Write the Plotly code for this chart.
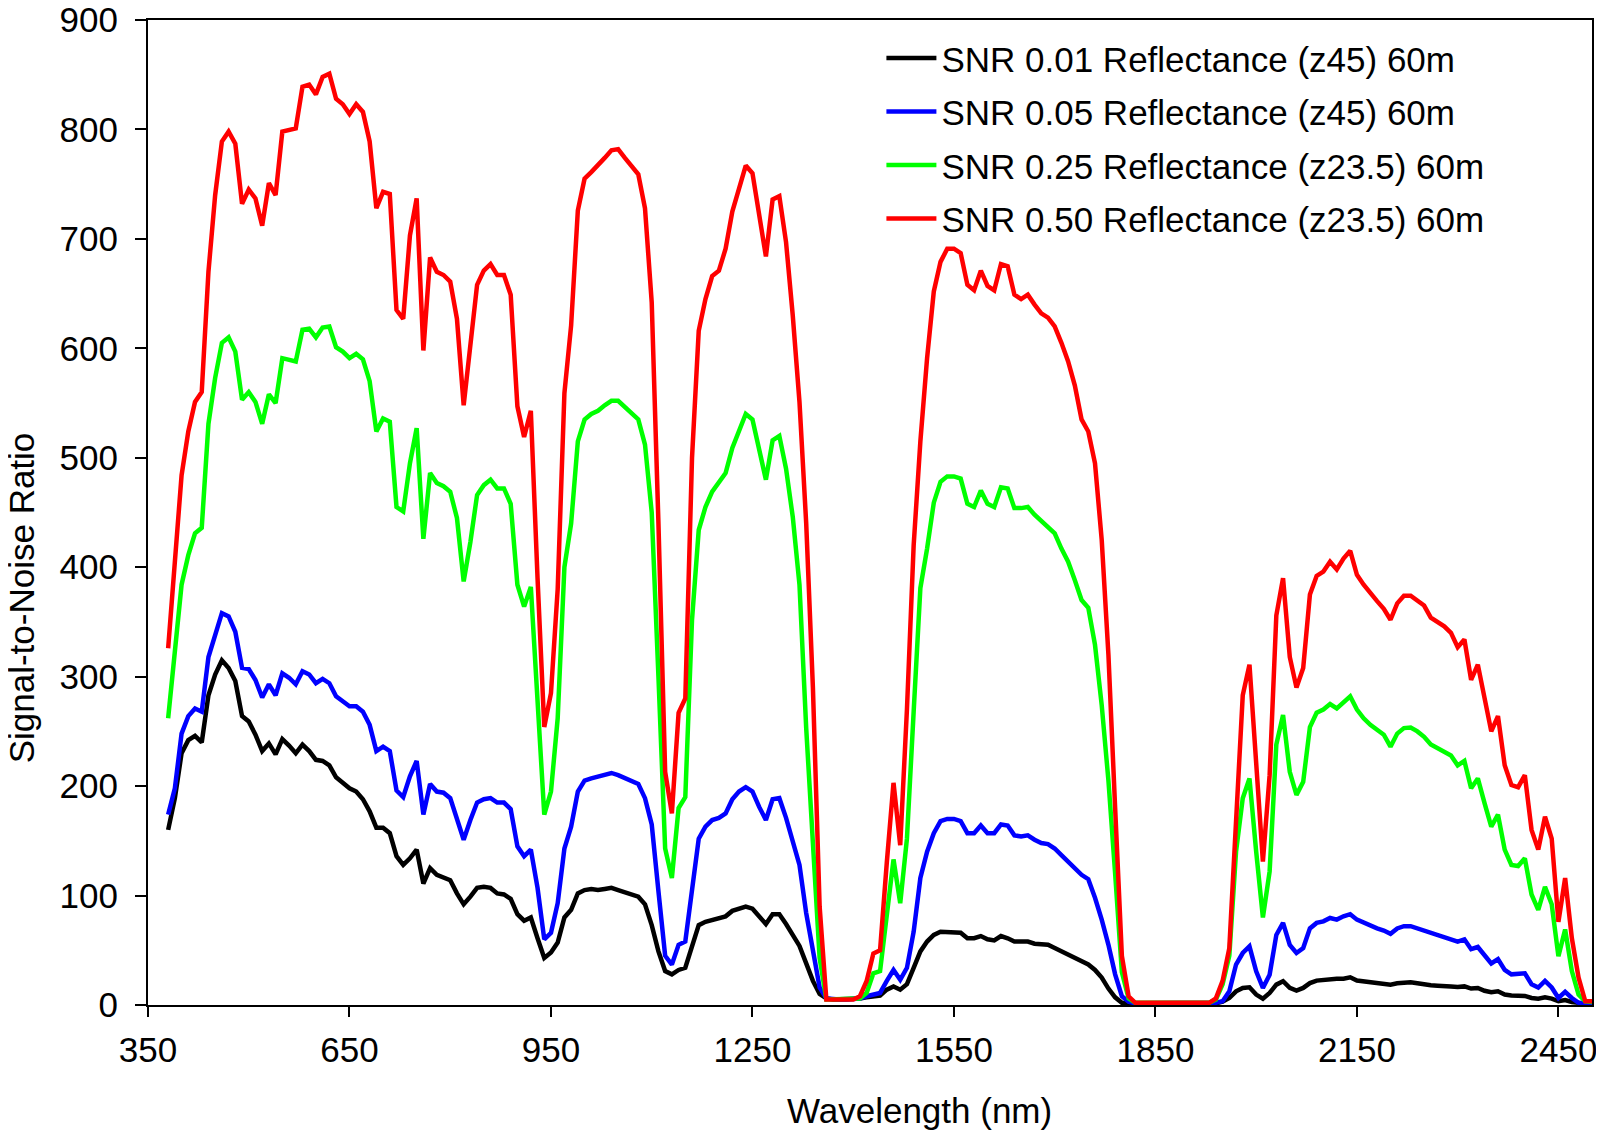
import plotly.graph_objects as go

# Wavelength grid (nm), 10 nm sampling
wavelength = list(range(380, 2510, 10))

# SNR 0.01 Reflectance (z45) 60m
snr_001 = [
    160, 189, 230, 242, 246, 240, 283, 302, 315, 308,   # 380-470
    296, 264, 259, 247, 232, 239, 229, 243, 237, 230,   # 480-570
    238, 232, 224, 223, 219, 208, 203, 198, 195, 188,   # 580-670
    177, 162, 162, 157, 136, 128, 134, 142, 111, 125,   # 680-770
    119, 116, 114, 102, 92, 99, 107, 108, 107, 102,     # 780-870
    101, 97, 83, 77, 80, 61, 43, 48, 57, 80,            # 880-970
    87, 102, 105, 106, 105, 106, 107, 105, 103, 102,    # 980-1070
    99, 92, 73, 49, 31, 28, 32, 34, 55, 73,             # 1080-1170
    76, 78, 79, 81, 86, 88, 90, 88, 81, 74,             # 1180-1270
    83, 83, 74, 64, 54, 38, 22, 10, 6, 5,               # 1280-1370
    5, 5, 5, 6, 7, 8, 8.6, 14, 17, 14,                  # 1380-1470
    19, 34, 49, 58, 64, 67, 67, 67, 66, 61,             # 1480-1570
    61, 63, 60, 59, 63, 61, 58, 58, 58, 56,             # 1580-1670
    55, 55, 52, 49, 46, 42, 40, 37, 32, 25,             # 1680-1770
    15, 7, 2, 1, 1, 1, 1, 1, 1, 1,                      # 1780-1870
    1, 1, 1, 1, 1, 1, 1.5, 3, 6.4, 12.5,                # 1880-1970
    15.6, 16.2, 9.5, 5.8, 11, 18.6, 21.7, 15.6, 13.1, 15.6,  # 1980-2070
    20, 22.3, 23.2, 23.2, 24, 24, 25.3, 22.3, 21.7, 21,      # 2080-2170
    20, 19.5, 18.6, 19.8, 20.7, 20.7, 19.8, 18.6, 18, 17.7,  # 2180-2270
    17.7, 17, 16.5, 17, 15, 15.6, 13, 11.6, 12.5, 9.5,       # 2280-2370
    8.6, 8.6, 8.3, 6.4, 5.8, 7, 5.8, 3.4, 4.6, 2.8,          # 2380-2470
    1.5, 1.2, 1.2,                                           # 2480-2500
]

# SNR 0.05 Reflectance (z45) 60m
snr_005 = [
    174, 198, 248, 264, 271, 268, 318, 338, 358, 355,
    341, 308, 307, 297, 281, 293, 283, 303, 299, 293,
    305, 302, 294, 298, 294, 282, 277, 273, 273, 268,
    256, 232, 236, 232, 196, 190, 209, 223, 174, 202,
    195, 194, 189, 171, 151, 169, 185, 188, 189, 185,
    185, 179, 145, 136, 142, 107, 60, 66, 93, 143,
    163, 195, 205, 207, 209, 211, 212, 210, 207, 205,
    202, 189, 165, 104, 45, 37, 55, 58, 107, 152,
    163, 169, 171, 175, 188, 195, 199, 195, 181, 169,
    188, 189, 171, 151, 128, 84, 49, 16, 6, 5,
    5, 5, 5, 6, 8, 9.5, 11, 22, 32, 23,
    34, 67, 116, 140, 157, 168, 170, 170, 168, 157,
    157, 164, 157, 157, 165, 164, 155, 154, 155, 151,
    148, 147, 143, 137, 131, 125, 119, 115, 98, 78,
    55, 28, 8, 3, 1.5, 1.5, 1.5, 1.5, 1.5, 1.5,
    1.5, 1.5, 1.5, 1.5, 1.5, 1.5, 2, 3.4, 12.5, 37,
    47.5, 53.6, 30.8, 15.6, 27.7, 64, 75, 55, 47.5, 52,
    70, 75, 76.4, 79.5, 78, 81, 83, 78, 75, 73,
    70, 68, 65, 70, 72, 72, 70, 68, 66, 65,
    63, 61, 58, 60, 51, 53, 46, 38, 42, 32,
    28, 28, 29, 19, 16, 22, 16, 6.4, 12, 6.4,
    2, 1.5, 1.5,
]

# SNR 0.25 Reflectance (z23.5) 60m
snr_025 = [
    262, 320, 384, 411, 431, 436, 531, 573, 605, 610,
    597, 553, 560, 551, 531, 558, 550, 591, 590, 588,
    617, 618, 610, 619, 620, 601, 597, 591, 595, 590,
    570, 524, 536, 533, 455, 451, 495, 527, 426, 486,
    477, 474, 469, 445, 387, 423, 466, 475, 480, 472,
    472, 458, 384, 364, 382, 280, 174, 195, 262, 400,
    440, 515, 535, 540, 543, 548, 552, 552, 546, 541,
    535, 512, 450, 300, 143, 116, 180, 190, 352, 434,
    455, 469, 477, 486, 509, 525, 540, 535, 509, 480,
    516, 520, 490, 446, 384, 253, 148, 43, 5, 5,
    5, 5, 5, 6, 11, 29, 31, 83, 133, 93,
    152, 268, 381, 417, 459, 478, 483, 483, 481, 458,
    455, 470, 458, 455, 473, 472, 454, 454, 455, 448,
    442, 437, 431, 417, 405, 388, 370, 363, 329, 274,
    205, 120, 30, 6, 2, 2, 2, 2, 2, 2,
    2, 2, 2, 2, 2, 2, 5, 19, 45, 140,
    189, 207, 140, 80, 122, 238, 265, 213, 192, 204,
    254, 267, 270, 275, 271, 277, 282, 270, 262, 256,
    251, 247, 236, 248, 253, 253.5, 250, 245, 238, 235,
    231, 228, 219, 223, 198, 207, 184.5, 163, 174, 142,
    128, 127, 134, 101, 87, 108, 92, 44.5, 69, 31,
    9.5, 3.4, 2.8,
]

# SNR 0.50 Reflectance (z23.5) 60m
snr_050 = [
    326, 410, 484, 524, 551, 560, 670, 740, 789, 798,
    787, 732, 745, 737, 712, 751, 740, 798, 799, 801,
    839, 841, 832, 848, 851, 828, 823, 814, 823, 816,
    789, 728, 743, 741, 635, 627, 703, 737, 598, 683,
    670, 667, 661, 627, 548, 604, 658, 671, 677, 667,
    667, 649, 547, 519, 543, 390, 254, 285, 380, 559,
    621, 726, 755, 761, 767, 774, 781, 782, 774, 766,
    759, 728, 642, 440, 213, 175, 267, 280, 500, 616,
    645, 666, 671, 691, 725, 746, 767, 760, 722, 684,
    736, 739, 697, 630, 551, 440, 290, 90, 5, 5,
    5, 5, 5, 8, 22, 47, 50, 130, 203, 146,
    270, 420, 515, 591, 652, 679, 691, 691, 687, 658,
    653, 671, 657, 653, 677, 675, 649, 645, 649, 640,
    632, 628, 620, 605, 588, 566, 535, 524, 495, 425,
    320, 180, 45, 8, 2, 2, 2, 2, 2, 2,
    2, 2, 2, 2, 2, 2, 6, 22, 52, 160,
    283, 311, 215, 131, 210, 356, 390, 318, 290, 308,
    375, 392, 396, 405, 398, 408, 415, 393, 384, 376,
    369, 362, 352, 367, 374, 374, 370, 365, 354, 350,
    346, 340, 327, 334, 297, 311, 280, 250, 264, 219,
    201, 199, 210, 160, 142, 172, 152, 76, 116, 61,
    25, 3.4, 3.4,
]

series_names = [
    "SNR 0.01 Reflectance (z45) 60m",
    "SNR 0.05 Reflectance (z45) 60m",
    "SNR 0.25 Reflectance (z23.5) 60m",
    "SNR 0.50 Reflectance (z23.5) 60m",
]
series_values = [snr_001, snr_005, snr_025, snr_050]
series_colors = ["#000000", "#0000FF", "#00FF00", "#FF0000"]

x_ticks = [350, 650, 950, 1250, 1550, 1850, 2150, 2450]
y_ticks = [0, 100, 200, 300, 400, 500, 600, 700, 800, 900]

x_title = "Wavelength (nm)"
y_title = "Signal-to-Noise Ratio"

FONT = "Liberation Sans, Arial, sans-serif"
FS = 35

fig = go.Figure()
for i, (name, vals, col) in enumerate(zip(series_names, series_values, series_colors)):
    fig.add_trace(go.Scatter(
        x=wavelength, y=vals, mode="lines", name=name,
        line=dict(color=col, width=4.5),
        legendgroup=f"g{i}",
    ))

# The page body has an 8 px margin, so the figure starts 8 px in from the
# window's top-left corner; size and margins are set to reach the window edges.
fig.update_layout(
    width=1596, height=1130,
    margin=dict(l=140, r=12, t=12, b=133, autoexpand=False),
    paper_bgcolor="white", plot_bgcolor="white",
    font=dict(family=FONT, size=FS, color="black"),
    showlegend=True,
    legend=dict(
        x=0.5079, y=0.991, xanchor="left", yanchor="top",
        bgcolor="rgba(0,0,0,0)", borderwidth=0,
        font=dict(family=FONT, size=FS, color="black"),
        itemwidth=50, tracegroupgap=5,
        traceorder="grouped",
    ),
    xaxis=dict(
        range=[350, 2500], tickmode="array", tickvals=x_ticks,
        ticktext=[str(v) for v in x_ticks],
        showgrid=False, zeroline=False, automargin=False,
        showline=True, linecolor="black", linewidth=2, mirror=True,
        ticks="outside", ticklen=10, tickwidth=2, tickcolor="black",
        ticklabelstandoff=3, ticklabeloverflow="allow",
        tickfont=dict(family=FONT, size=FS),
    ),
    yaxis=dict(
        range=[0, 900], tickmode="array", tickvals=y_ticks,
        showgrid=False, zeroline=False, automargin=False,
        showline=True, linecolor="black", linewidth=2, mirror=True,
        ticks="outside", ticklen=11, tickwidth=2, tickcolor="black",
        ticklabelstandoff=10, ticklabeloverflow="allow",
        tickfont=dict(family=FONT, size=FS),
    ),
    annotations=[
        dict(text=x_title, xref="paper", yref="paper", x=0.534, y=-0.1066,
             xanchor="center", yanchor="middle", showarrow=False,
             font=dict(family=FONT, size=FS, color="black")),
        dict(text=y_title, xref="paper", yref="paper", x=-0.0870, y=0.4132,
             xanchor="center", yanchor="middle", showarrow=False, textangle=-90,
             font=dict(family=FONT, size=FS, color="black")),
    ],
)

fig.write_html("out.html")
